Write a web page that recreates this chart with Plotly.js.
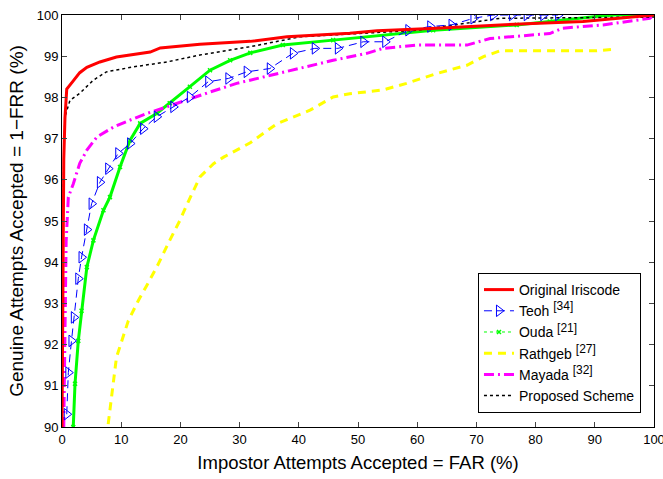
<!DOCTYPE html>
<html><head><meta charset="utf-8">
<script src="https://cdn.plot.ly/plotly-3.0.1.min.js"></script>
<style>body{margin:0;padding:0;background:#fff}#chart{width:663px;height:479px}</style>
</head><body><div id="chart"></div>
<script>
const origX = [0, 0.1, 0.2, 0.3, 0.5, 0.8, 1.9, 3.0, 4.2, 6.4, 9.2, 14.9, 16.6, 23.3, 31.8, 38, 48.6, 53.2, 63.3, 74, 88, 99.3, 100];
const origY = [90, 93, 95, 96.5, 97.5, 98.2, 98.4, 98.6, 98.73, 98.86, 98.98, 99.1, 99.2, 99.29, 99.36, 99.47, 99.56, 99.62, 99.68, 99.76, 99.84, 100, 100];

const teohX = [0.8, 1.07, 1.6, 2.0, 2.75, 3.3, 4.2, 5.0, 6.4, 7.8, 9.5, 11.5, 13.7, 16, 18.8, 21.6, 24.7, 28.1, 31.2, 35.1, 39, 42.7, 46.6, 50.9, 54.6, 58.5, 62.2, 65.8, 69.5, 72.8, 76, 78.5, 81.3, 83.8];
const teohY = [90.31, 91.32, 92.09, 92.66, 93.6, 94.12, 94.79, 95.42, 95.94, 96.27, 96.64, 96.88, 97.24, 97.53, 97.77, 98.01, 98.38, 98.46, 98.62, 98.7, 99.07, 99.19, 99.19, 99.35, 99.35, 99.63, 99.72, 99.76, 99.92, 100, 100, 100, 100, 100];

const oudaX = [1.9, 2.2, 2.75, 3.3, 4.2, 5.3, 7.0, 8.1, 9.8, 11.5, 13.2, 16, 18.2, 21.6, 25, 28.4, 31.8, 37.3, 45.8, 62.7, 76.8, 82.4, 92.6, 100];
const oudaY = [90, 91.05, 92.09, 92.82, 93.88, 94.53, 95.26, 95.58, 96.31, 96.96, 97.37, 97.61, 97.86, 98.26, 98.66, 98.9, 99.08, 99.27, 99.39, 99.63, 99.76, 99.84, 100, 100];

const rathX = [7.8, 8.4, 9.2, 11.2, 12.9, 14.3, 16, 18.2, 19.9, 21.3, 23.3, 25.6, 27.3, 29.5, 31.8, 36.3, 41.9, 45.8, 48.6, 54.2, 58.2, 63.3, 68.4, 71.2, 74, 90.3, 93.1];
const rathY = [90.07, 90.71, 91.69, 92.58, 93.07, 93.43, 93.88, 94.53, 95.01, 95.46, 96.07, 96.39, 96.55, 96.72, 96.9, 97.36, 97.69, 98.01, 98.09, 98.18, 98.34, 98.58, 98.78, 98.99, 99.13, 99.13, 99.17];

const mayaX = [0.3, 0.5, 0.7, 1.07, 1.9, 3.0, 4.2, 5.9, 8.7, 11.5, 14.3, 17.7, 21.6, 25, 29.5, 31.8, 37.3, 45.8, 51.5, 54.2, 59.9, 68.4, 72.3, 82.4, 84.6, 91.4, 99.3, 100];
const mayaY = [90, 93, 94.5, 95.58, 95.9, 96.4, 96.72, 97.04, 97.28, 97.45, 97.61, 97.77, 97.97, 98.13, 98.34, 98.42, 98.62, 98.9, 99.07, 99.19, 99.27, 99.27, 99.43, 99.55, 99.68, 99.76, 99.92, 100];

const propX = [0, 0.1, 0.3, 0.5, 1.35, 3.0, 5.3, 7.5, 12, 17.7, 23.3, 31.8, 40.2, 60, 74, 100];
const propY = [90, 94, 96.5, 97.53, 97.93, 98.1, 98.42, 98.62, 98.74, 98.86, 99.03, 99.23, 99.47, 99.63, 99.92, 99.95];

const sup = s => '<sup><span style="font-size:12px">' + s + '</span></sup>';
const names = ['Original Iriscode', 'Teoh ' + sup('[34]'), 'Ouda ' + sup('[21]'), 'Rathgeb ' + sup('[27]'), 'Mayada ' + sup('[32]'), 'Proposed Scheme'];

const green = '#00ff00';
const traces = [
  {x: oudaX, y: oudaY, mode: 'lines+markers', line: {color: green, width: 3}, marker: {symbol: 'x-thin-open', size: 4, color: green, line: {width: 1.5, color: green}}, showlegend: false, hoverinfo: 'skip'},
  {x: rathX, y: rathY, mode: 'lines', name: names[3], line: {color: '#ffff00', width: 3, dash: '8px,6px'}, showlegend: false},
  {x: mayaX, y: mayaY, mode: 'lines', name: names[4], line: {color: '#ff00ff', width: 3, dash: '10px,4px,2px,4px'}, showlegend: false},
  {x: propX, y: propY, mode: 'lines', name: names[5], line: {color: '#000000', width: 1.5, dash: 'dot'}, showlegend: false},
  {x: teohX, y: teohY, mode: 'lines+markers', name: names[1], line: {color: '#0000ff', width: 1, dash: '8px,5px'}, marker: {symbol: 'triangle-right-open', size: 10, color: '#0000ff', line: {width: 1}}, showlegend: false},
  {x: origX, y: origY, mode: 'lines', name: names[0], line: {color: '#ff0000', width: 3}, showlegend: false},
  // legend entries
  {x: [null], y: [null], mode: 'lines', name: names[0], line: {color: '#ff0000', width: 3}},
  {x: [null], y: [null], mode: 'lines+markers', name: names[1], line: {color: '#0000ff', width: 1, dash: '8px,5px'}, marker: {symbol: 'triangle-right-open', size: 10, color: '#0000ff'}},
  {x: [null], y: [null], mode: 'lines+markers', name: names[2], line: {color: green, width: 1, dash: 'dot'}, marker: {symbol: 'x-thin-open', size: 4, color: green, line: {width: 1.5, color: green}}},
  {x: [null], y: [null], mode: 'lines', name: names[3], line: {color: '#ffff00', width: 3, dash: '8px,6px'}},
  {x: [null], y: [null], mode: 'lines', name: names[4], line: {color: '#ff00ff', width: 3, dash: '10px,4px,2px,4px'}},
  {x: [null], y: [null], mode: 'lines', name: names[5], line: {color: '#000000', width: 1.5, dash: 'dot'}}
];

const font = 'Liberation Sans, Arial, sans-serif';
const layout = {
  width: 663, height: 479,
  margin: {l: 62, r: 9, t: 15, b: 52},
  paper_bgcolor: '#fff', plot_bgcolor: '#fff',
  font: {family: font, size: 13, color: '#000'},
  showlegend: true,
  legend: {x: 0.978, y: 0.034, xanchor: 'right', yanchor: 'bottom', bgcolor: '#fff', bordercolor: '#000', borderwidth: 1, font: {family: font, size: 14}, tracegroupgap: 0},
  xaxis: {range: [0, 100], dtick: 10, tick0: 0, ticks: 'inside', ticklen: 5, mirror: 'ticks', showline: true, linecolor: '#000', linewidth: 1, showgrid: false, zeroline: false,
    ticklabeloverflow: 'allow',
    tickfont: {family: font, size: 13},
    title: {text: 'Impostor Attempts Accepted = FAR (%)', font: {family: font, size: 18.5}, standoff: 10}},
  yaxis: {range: [90, 100], dtick: 1, tick0: 90, ticks: 'inside', ticklen: 5, mirror: 'ticks', showline: true, linecolor: '#000', linewidth: 1, showgrid: false, zeroline: false,
    ticklabeloverflow: 'allow',
    tickfont: {family: font, size: 13},
    title: {text: 'Genuine Attempts Accepted = 1−FRR (%)', font: {family: font, size: 19}, standoff: 8}}
};
Plotly.newPlot('chart', traces, layout, {displayModeBar: false, staticPlot: true});
</script></body></html>
